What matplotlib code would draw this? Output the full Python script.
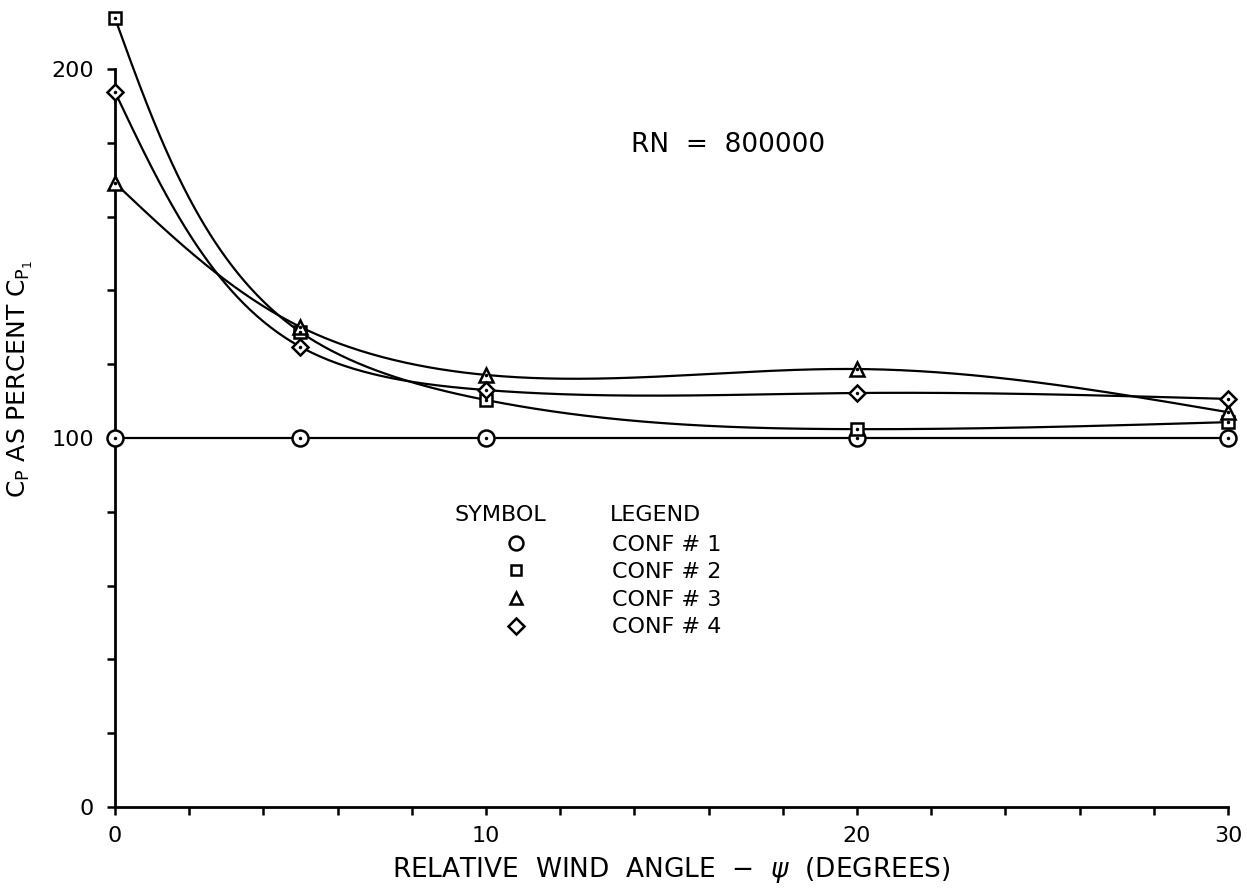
import matplotlib
matplotlib.use('Agg')
import matplotlib.pyplot as plt
import numpy as np
from matplotlib.lines import Line2D

angulo = [0, 5, 10, 20, 30]
conf1 = [100, 100, 100, 100, 100]
conf2 = [213.8, 128.7, 110.3, 102.4, 104.3]
conf3 = [169.1, 130.1, 117.1, 118.7, 107.0]
conf4 = [193.8, 124.7, 113.0, 112.2, 110.6]

rotulos = ['CONF # 1', 'CONF # 2', 'CONF # 3', 'CONF # 4']
marcadores = ['o', 's', '^', 'D']
tamanhos = [11.5, 8.5, 9.5, 8.2]
tamanhos_leg = [10, 7.2, 9.2, 8]


def coef_natural(t, v):
    k = len(t)
    h = np.diff(t)
    A = np.zeros((k, k))
    b = np.zeros(k)
    A[0, 0] = 1
    A[-1, -1] = 1
    for i in range(1, k - 1):
        A[i, i - 1] = h[i - 1]
        A[i, i] = 2 * (h[i - 1] + h[i])
        A[i, i + 1] = h[i]
        b[i] = 6 * ((v[i + 1] - v[i]) / h[i] - (v[i] - v[i - 1]) / h[i - 1])
    return np.linalg.solve(A, b)


def avalia(t, v, M, ts):
    h = np.diff(t)
    out = np.empty_like(ts)
    for j, s in enumerate(ts):
        i = min(np.searchsorted(t, s, side='right') - 1, len(t) - 2)
        a = t[i + 1] - s
        c = s - t[i]
        out[j] = (M[i] * a**3 + M[i + 1] * c**3) / (6 * h[i]) \
            + (v[i] / h[i] - M[i] * h[i] / 6) * a \
            + (v[i + 1] / h[i] - M[i + 1] * h[i] / 6) * c
    return out


def curva_suave(ax, x, y, n=400):
    # spline parametrica (comprimento de corda) feita em pixels, como num plotter
    pts = ax.transData.transform(np.column_stack([x, y]))
    d = np.hypot(*np.diff(pts, axis=0).T)
    t = np.concatenate([[0], np.cumsum(d)])
    ts = np.linspace(0, t[-1], n)
    px = avalia(t, pts[:, 0], coef_natural(t, pts[:, 0]), ts)
    py = avalia(t, pts[:, 1], coef_natural(t, pts[:, 1]), ts)
    dados = ax.transData.inverted().transform(np.column_stack([px, py]))
    return dados[:, 0], dados[:, 1]


plt.rcParams['font.family'] = ['DejaVu Sans']
fig = plt.figure(figsize=(12.47, 8.92), dpi=100)
ax = fig.add_axes([0.0922, 0.0953, 0.8926, 0.8273])
ax.set_xlim(0, 30)
ax.set_ylim(0, 200)

series = [conf1, conf2, conf3, conf4]
for serie, m, ms in zip(series, marcadores, tamanhos):
    xs, ys = curva_suave(ax, angulo, serie)
    ax.plot(xs, ys, color='black', linewidth=1.6, clip_on=False, zorder=2)
    ax.plot(angulo, serie, linestyle='none', marker=m, markersize=ms,
            markerfacecolor='white', markeredgecolor='black', markeredgewidth=1.8,
            clip_on=False, zorder=3)
    ax.plot(angulo, serie, linestyle='none', marker='.', markersize=3,
            color='black', clip_on=False, zorder=4)

for lado in ['top', 'right']:
    ax.spines[lado].set_visible(False)
for lado in ['left', 'bottom']:
    ax.spines[lado].set_linewidth(2)
ax.spines['left'].set_bounds(0, 200)

ax.set_xticks([0, 10, 20, 30])
ax.set_xticks(np.arange(0, 31, 2), minor=True)
ax.set_yticks([0, 100, 200])
ax.set_yticks(np.arange(0, 201, 20), minor=True)
ax.tick_params(which='both', direction='out', length=6, width=1.8, labelsize=16)
ax.tick_params(axis='x', which='both', pad=8)
ax.tick_params(axis='y', which='both', pad=9)

ax.set_xlabel(r'RELATIVE  WIND  ANGLE  $-$  $\psi$  (DEGREES)', fontsize=19, labelpad=6)
ax.set_ylabel(r'C$_\mathrm{P}$ AS PERCENT C$_{\mathrm{P}_1}$', fontsize=18)
ax.yaxis.set_label_coords(-0.072, 0.58)

ax.text(0.464, 0.897, 'RN  =  800000', transform=ax.transAxes, fontsize=19,
        va='center', ha='left')

ax.text(0.305, 0.396, 'SYMBOL', transform=ax.transAxes, fontsize=16,
        va='center', ha='left')
ax.text(0.445, 0.396, 'LEGEND', transform=ax.transAxes, fontsize=16,
        va='center', ha='left')

alcas = [Line2D([], [], linestyle='none', marker=m, markersize=ms,
                markerfacecolor='white', markeredgecolor='black', markeredgewidth=1.8)
         for m, ms in zip(marcadores, tamanhos_leg)]
ax.legend(alcas, rotulos, loc='upper left', bbox_to_anchor=(0.3403, 0.369),
          frameon=False, fontsize=16, handlelength=2, handletextpad=3.3,
          labelspacing=0.34, borderpad=0, borderaxespad=0)

plt.savefig('out.png', dpi=100)
plt.close()
